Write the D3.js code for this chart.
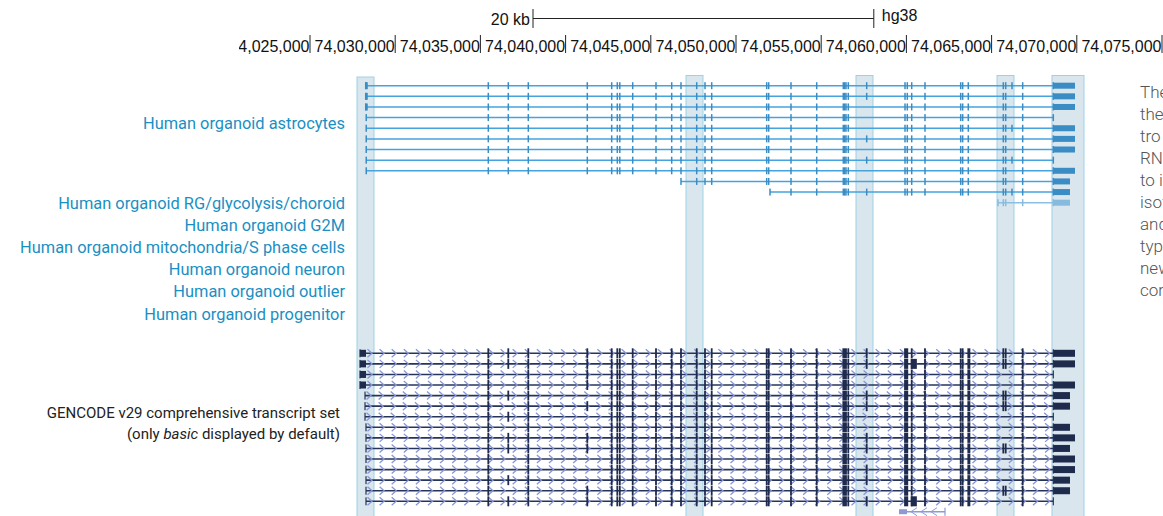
<!DOCTYPE html>
<html>
<head>
<meta charset="utf-8">
<script src="https://cdn.jsdelivr.net/npm/d3@7"></script>
<style>
body { margin: 0; background: #fff; overflow: hidden; }
</style>
</head>
<body>
<svg id="chart" width="1163" height="516"></svg>
<script>
// ---- data ----
const axisTicks = [74025000, 74030000, 74035000, 74040000, 74045000, 74050000,
                   74055000, 74060000, 74065000, 74070000, 74075000];
const scaleBar = [74038087, 74058087];
const scaleLabel = '20 kb';
const assembly = 'hg38';

// highlighted exon regions
const highlights = [[74027758, 74028756], [74047066, 74048063], [74057042, 74058040],
                    [74065317, 74066314], [74068544, 74070422]];

const astroLabel = 'Human organoid astrocytes';
const otherLabels = ['Human organoid RG/glycolysis/choroid', 'Human organoid G2M',
  'Human organoid mitochondria/S phase cells', 'Human organoid neuron',
  'Human organoid outlier', 'Human organoid progenitor'];
const gencodeLabel = ['GENCODE v29 comprehensive transcript set', '(only ', 'basic', ' displayed by default)'];
const captionLines = ['These', 'the', 'tro', 'RNA-seq', 'to identify', 'isoforms', 'and', 'types', 'new', 'com'];

// astrocyte isoforms (exons as single positions)
const astroExons = [74035464, 74036637, 74037811, 74041273, 74042705, 74043034, 74043181,
  74043938, 74045305, 74046226, 74046772, 74047694, 74048181, 74048574, 74051801, 74051919,
  74053227, 74054736, 74056297, 74056380, 74056455, 74056590, 74059918, 74060053, 74060311,
  74061091, 74063186, 74063303, 74063632, 74065687, 74065827, 74066824];
const astroRows = [
  {start: 74028270, lead: 74028390, end: 74068621, tail: 74069894, extra: [74057670, 74066197]},
  {start: 74028270, lead: 74028390, end: 74068621, tail: 74069894, extra: [74057670]},
  {start: 74028270, lead: 74028390, end: 74068621, tail: 74069894, extra: []},
  {start: 74028300, lead: null, end: 74068621, tail: null, extra: []},
  {start: 74028300, lead: null, end: 74068621, tail: 74069894, extra: [74066197]},
  {start: 74028300, lead: null, end: 74068621, tail: 74069894, extra: [74057670]},
  {start: 74028300, lead: null, end: 74068621, tail: 74069894, extra: []},
  {start: 74028300, lead: null, end: 74068621, tail: null, extra: [74057670, 74066197]},
  {start: 74028300, lead: null, end: 74068621, tail: 74069894, extra: []},
  {start: 74046772, lead: null, end: 74068621, tail: 74069600, extra: []},
  {start: 74051995, lead: null, end: 74068621, tail: 74069600, extra: [74057670, 74066197]},
  {start: 74065375, lead: null, end: 74068621, tail: 74069600, extra: [], faint: true}
];

// GENCODE transcripts
const gencodeExons = [[74035464, 74035464], [74037811, 74037811], [74042705, 74042705],
  [74043034, 74043034], [74043181, 74043181], [74043938, 74043938], [74045305, 74045305],
  [74046226, 74046226], [74046772, 74046772], [74047694, 74047694], [74048181, 74048181],
  [74048574, 74048574], [74051801, 74051801], [74051919, 74051919], [74053227, 74053227],
  [74054736, 74054736], [74056297, 74056455], [74056590, 74056590], [74059918, 74060053],
  [74060311, 74060311], [74061091, 74061091], [74063186, 74063186], [74063303, 74063303],
  [74063632, 74063700], [74066824, 74066824]];
const gencodeOptional = [
  {exon: [74036637, 74036637], rows: [0, 1, 4, 6, 8, 9, 12, 14]},
  {exon: [74041273, 74041273], rows: [0, 1, 2, 3, 5, 8, 9, 13, 14]},
  {exon: [74057670, 74057670], rows: [0, 1, 4, 5, 8, 9, 11, 12, 14]},
  {exon: [74065687, 74065687], rows: [0, 1, 4, 5, 9, 13]},
  {exon: [74065827, 74065827], rows: [0, 1, 4, 5, 9, 13]},
  {exon: [74060311, 74060560], rows: [1, 14]}
];
const gencodeRows = [
  {start: 74027934, lead: 74028286, end: 74068621, tail: 74069894},
  {start: 74027934, lead: 74028286, end: 74068621, tail: 74069894},
  {start: 74027934, lead: 74028286, end: 74068621, tail: null},
  {start: 74027934, lead: 74028286, end: 74068621, tail: 74069894},
  {start: 74028228, lead: null, end: 74068621, tail: 74069600},
  {start: 74028228, lead: null, end: 74068621, tail: 74069600},
  {start: 74028228, lead: null, end: 74068621, tail: null},
  {start: 74028286, lead: null, end: 74068621, tail: 74069600},
  {start: 74028286, lead: null, end: 74068621, tail: 74069894},
  {start: 74028286, lead: null, end: 74068621, tail: 74069600},
  {start: 74028286, lead: null, end: 74068621, tail: 74069894},
  {start: 74028286, lead: null, end: 74068621, tail: 74069894},
  {start: 74028286, lead: null, end: 74068621, tail: 74069600},
  {start: 74028286, lead: null, end: 74068621, tail: 74069600},
  {start: 74028286, lead: null, end: 74068621, tail: null}
];
// small antisense gene below GENCODE rows
const antisense = {start: 74059565, utr: 74060035, end: 74062265};

// ---- scales ----
const svg = d3.select('#chart');
const x = d3.scaleLinear().domain([74025000, 74075000]).range([310, 1162]);
const yOrg = d3.scalePoint().domain(d3.range(astroRows.length)).range([85.7, 202.7]);
const yLab = d3.scalePoint().domain(d3.range(otherLabels.length)).range([203, 314]);
const yGen = d3.scalePoint().domain(d3.range(gencodeRows.length)).range([353.3, 501.3]);

const blue = '#1a8fc3';
const orgLine = '#45a4de';
const orgBlock = '#3a8cc5';
const navy = '#27345a';
const exonCol = '#1f2b4d';
const chevron = '#8796d6';

// ---- highlight bands (behind tracks) ----
svg.append('g').selectAll('rect').data(highlights).enter().append('rect')
  .attr('x', d => x(d[0])).attr('width', d => x(d[1]) - x(d[0]))
  .attr('y', (d, i) => i === 0 ? 77 : 75.5).attr('height', 460)
  .attr('fill', '#d9e6ed')
  .attr('stroke', '#9fd1e5').attr('stroke-width', 1);

// ---- ruler ----
svg.append('clipPath').attr('id', 'rulerClip')
  .append('rect').attr('x', 239).attr('y', 0).attr('width', 930).attr('height', 60);
const ruler = svg.append('g').attr('clip-path', 'url(#rulerClip)')
  .style('font-family', '"Liberation Sans", Arial, sans-serif')
  .style('font-size', '16px').attr('fill', '#111');
ruler.selectAll('line.tick').data(axisTicks).enter().append('line')
  .attr('x1', d => x(d)).attr('x2', d => x(d)).attr('y1', 35).attr('y2', 53)
  .attr('stroke', '#222').attr('stroke-width', 1);
ruler.selectAll('text.tick').data(axisTicks).enter().append('text')
  .attr('x', d => x(d) - 0.5).attr('y', 52)
  .attr('text-anchor', 'end')
  .text(d => d3.format(',')(d));
ruler.append('line')
  .attr('x1', x(scaleBar[0])).attr('x2', x(scaleBar[1])).attr('y1', 18.5).attr('y2', 18.5)
  .attr('stroke', '#222').attr('stroke-width', 1);
ruler.selectAll('line.bar').data(scaleBar).enter().append('line')
  .attr('x1', d => x(d)).attr('x2', d => x(d)).attr('y1', 9).attr('y2', 28)
  .attr('stroke', '#222').attr('stroke-width', 1);
ruler.append('text').attr('x', x(scaleBar[0]) - 3).attr('y', 25)
  .attr('text-anchor', 'end').text(scaleLabel);
ruler.append('text').attr('x', x(scaleBar[1]) + 8).attr('y', 21).text(assembly);

// ---- labels ----
const labels = svg.append('g').style('font-family', 'Roboto, sans-serif')
  .style('font-size', '16.4px').attr('fill', blue).attr('text-anchor', 'end');
labels.append('text').attr('x', 345).attr('y', 128.5).text(astroLabel);
labels.selectAll('text.other').data(otherLabels).enter().append('text')
  .attr('x', 345).attr('y', (d, i) => yLab(i) + 5.5)
  .text(d => d);

const gl = svg.append('g').style('font-family', 'Roboto, sans-serif')
  .style('font-size', '15px').attr('fill', '#222');
gl.append('text').attr('x', 340).attr('y', 418).attr('text-anchor', 'end').text(gencodeLabel[0]);
const gl2 = gl.append('text').attr('x', 340).attr('y', 439).attr('text-anchor', 'end');
gl2.append('tspan').text(gencodeLabel[1]);
gl2.append('tspan').style('font-style', 'italic').text(gencodeLabel[2]);
gl2.append('tspan').text(gencodeLabel[3]);

svg.append('g').selectAll('text').data(captionLines).enter().append('text')
  .attr('x', 1140).attr('y', (d, i) => 98 + i * 22)
  .style('font-family', 'Roboto, sans-serif').style('font-size', '17px')
  .style('font-weight', 300).attr('fill', '#555')
  .text(d => d);

// ---- organoid isoforms ----
const org = svg.append('g');
astroRows.forEach((r, i) => {
  const y = yOrg(i);
  const g = org.append('g');
  const lc = r.faint ? '#8cc0e2' : orgLine;
  const bc = r.faint ? '#86bbdf' : orgBlock;
  g.append('line').attr('x1', x(r.start)).attr('x2', x(r.end)).attr('y1', y).attr('y2', y)
    .attr('stroke', lc).attr('stroke-width', 1.5);
  const ex = [r.start, r.end].concat(astroExons.filter(p => p > r.start && p < r.end), r.extra);
  g.selectAll('rect.ex').data(ex).enter().append('rect')
    .attr('x', d => x(d) - 0.75).attr('width', 1.5)
    .attr('y', y - 3.5).attr('height', 7).attr('fill', bc);
  if (r.lead) {
    g.append('rect').attr('x', x(r.start) - 0.5).attr('width', x(r.lead) - x(r.start) + 0.5)
      .attr('y', y - 3.5).attr('height', 7).attr('fill', bc);
  }
  if (r.tail) {
    g.append('rect').attr('x', x(r.end)).attr('width', x(r.tail) - x(r.end))
      .attr('y', y - 3).attr('height', 6).attr('fill', bc);
  }
});

// ---- GENCODE ----
const gen = svg.append('g');
gencodeRows.forEach((r, i) => {
  const y = yGen(i);
  const g = gen.append('g');
  const x0 = x(r.lead || r.start), x1 = x(r.end);
  g.append('line').attr('x1', x(r.start)).attr('x2', x1).attr('y1', y).attr('y2', y)
    .attr('stroke', navy).attr('stroke-width', 1.6);
  g.selectAll('path').data(d3.range(x0 + 4, x1 - 3, 12.1)).enter().append('path')
    .attr('d', d => `M${d - 2.5},${y - 4}L${d + 2},${y}L${d - 2.5},${y + 4}`)
    .attr('fill', 'none').attr('stroke', chevron).attr('stroke-width', 1.3);
  const ex = gencodeExons.concat(gencodeOptional.filter(o => o.rows.includes(i)).map(o => o.exon));
  g.selectAll('rect.ex').data(ex).enter().append('rect')
    .attr('x', d => x(d[0]) - 0.9).attr('width', d => Math.max(1.8, x(d[1]) - x(d[0]) + 1.8))
    .attr('y', y - 5).attr('height', 10).attr('fill', exonCol);
  g.append('rect').attr('x', x(r.start) - 0.6).attr('width', 1.2)
    .attr('y', y - 4).attr('height', 8).attr('fill', navy);
  g.append('rect').attr('x', x1 - 0.6).attr('width', 1.2)
    .attr('y', y - 4).attr('height', 8).attr('fill', navy);
  if (r.lead) {
    g.append('rect').attr('x', x(r.start)).attr('width', x(r.lead) - x(r.start))
      .attr('y', y - 3.5).attr('height', 7).attr('fill', exonCol);
  }
  if (r.tail) {
    g.append('rect').attr('x', x1).attr('width', x(r.tail) - x1)
      .attr('y', y - 3.5).attr('height', 7).attr('fill', exonCol);
  }
});

// antisense gene
{
  const y = 511.7;
  const g = gen.append('g');
  g.append('line').attr('x1', x(antisense.start)).attr('x2', x(antisense.end))
    .attr('y1', y).attr('y2', y).attr('stroke', '#8e9bd3').attr('stroke-width', 1.5);
  g.append('rect').attr('x', x(antisense.start)).attr('width', x(antisense.utr) - x(antisense.start))
    .attr('y', y - 2.5).attr('height', 5).attr('fill', '#8e9bd3');
  g.selectAll('path').data(d3.range(x(antisense.utr) + 7, x(antisense.end) - 2, 10)).enter().append('path')
    .attr('d', d => `M${d + 3},${y - 4}L${d - 3},${y}L${d + 3},${y + 4}`)
    .attr('fill', 'none').attr('stroke', '#8e9bd3').attr('stroke-width', 1);
  g.append('line').attr('x1', x(antisense.end)).attr('x2', x(antisense.end))
    .attr('y1', y - 4).attr('y2', y + 4).attr('stroke', '#8e9bd3').attr('stroke-width', 1.2);
}
</script>
</body>
</html>
